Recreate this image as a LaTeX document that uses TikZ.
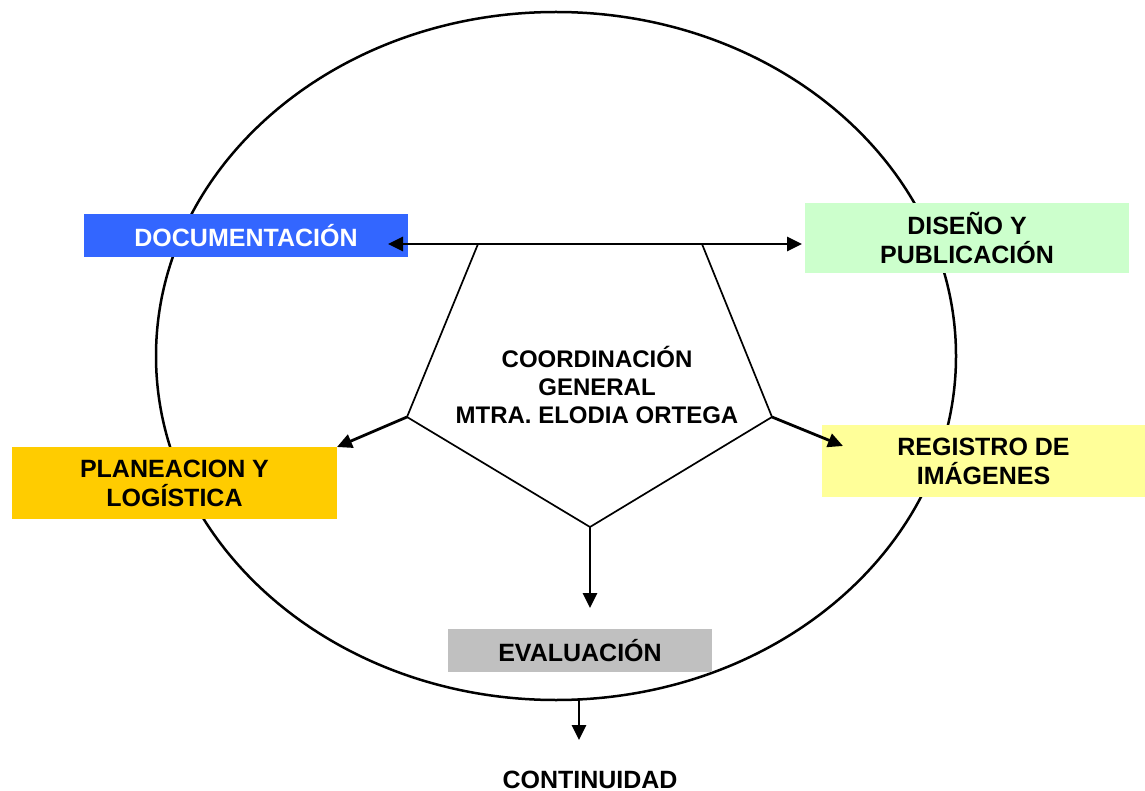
\documentclass[tikz,border=0pt]{standalone}
\usepackage{fontspec}
\setmainfont{Liberation Sans}
\usetikzlibrary{arrows.meta}
\definecolor{docblue}{HTML}{3366FF}
\definecolor{disgreen}{HTML}{CCFFCC}
\definecolor{planorange}{HTML}{FFCC00}
\definecolor{regyellow}{HTML}{FFFF99}
\definecolor{evalgray}{HTML}{C0C0C0}
\tikzset{
  box/.style={inner sep=0pt, align=center, font=\fontsize{25}{29}\selectfont\bfseries},
  conn/.style={line width=2.8pt, -{Triangle[length=15pt,width=14pt]}},
  pent/.style={line width=1.7pt, line join=miter},
}
\begin{document}
\begin{tikzpicture}[x=1pt,y=-1pt]
\useasboundingbox (0,0) rectangle (1145,791);
\fill[white] (0,0) rectangle (1145,791);
% ellipse
\draw[line width=2.5pt] (556,356) ellipse [x radius=400, y radius=344];
% boxes
\node[box, fill=docblue, text=white, minimum width=324pt, minimum height=43pt] (doc) at (246,235.5) {DOCUMENTACIÓN};
\node[box, fill=disgreen, minimum width=324pt, minimum height=70pt] (dis) at (967,238) {DISEÑO Y\\PUBLICACIÓN};
\node[box, fill=planorange, minimum width=325pt, minimum height=72pt] (plan) at (174.5,483) {PLANEACION Y\\LOGÍSTICA};
\node[box, fill=regyellow, minimum width=323pt, minimum height=72pt] (reg) at (983.5,461) {REGISTRO DE\\IMÁGENES};
\node[box, fill=evalgray, minimum width=264pt, minimum height=43pt] (eval) at (580,650.5) {EVALUACIÓN};
\node[inner sep=0pt, font=\fontsize{25}{29}\selectfont\bfseries, anchor=base] (cont) at (590,788) {CONTINUIDAD};
% pentagon
\coordinate (p1) at (478,244);
\coordinate (p2) at (702,244);
\coordinate (p3) at (772,417);
\coordinate (p4) at (590,527);
\coordinate (p5) at (407,417);
\draw[pent] (p1) -- (p2) -- (p3) -- (p4) -- (p5) -- cycle;
\node[align=center, font=\fontsize{24}{28}\selectfont\bfseries] (coord) at (597,385) {COORDINACIÓN\\GENERAL\\MTRA. ELODIA ORTEGA};
% arrows
\coordinate (dtip) at (388,244);
\coordinate (stip) at (802,244);
\draw[line width=2.8pt, {Triangle[length=15pt,width=14pt]}-{Triangle[length=15pt,width=14pt]}] (dtip) -- (stip);
\coordinate (ptip) at (337,447);
\coordinate (rtip) at (843,446);
\draw[conn] (p5) -- (ptip);
\draw[conn] (p3) -- (rtip);
\coordinate (etip) at (590,608);
\draw[conn] (p4) -- (etip);
\coordinate (eb) at (579,700);
\coordinate (ctip) at (579,740);
\draw[conn] (eb) -- (ctip);
\end{tikzpicture}
\end{document}
